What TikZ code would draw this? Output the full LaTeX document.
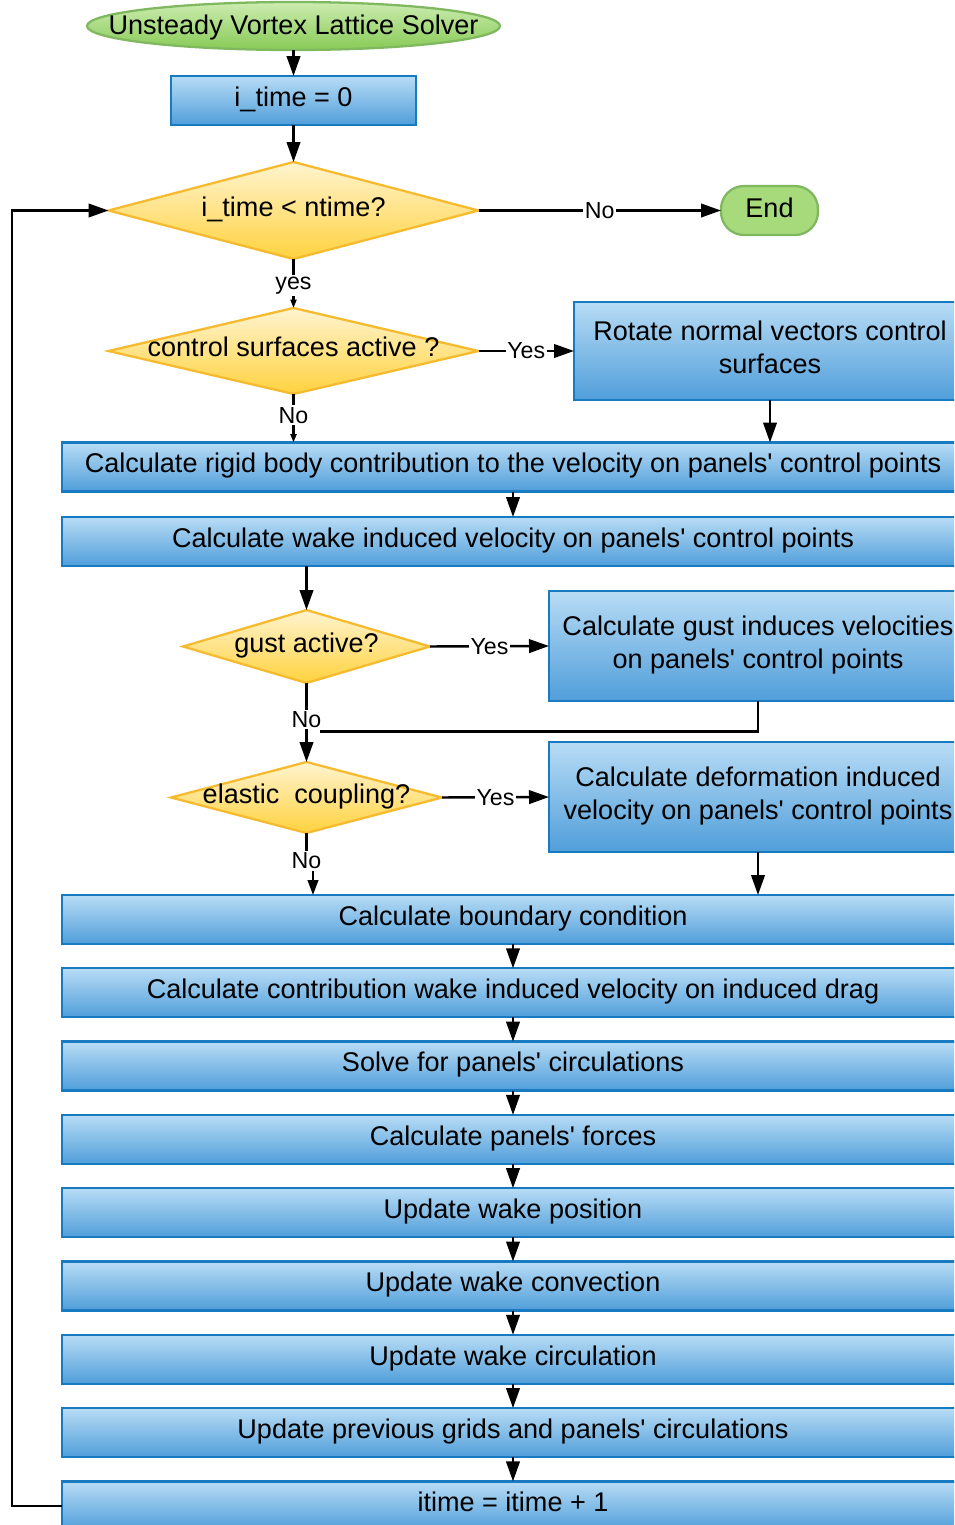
\documentclass[tikz,border=0pt]{standalone}
\usepackage{fontspec}
\setmainfont{Liberation Sans}
\usetikzlibrary{arrows.meta,shapes.geometric,calc}
\definecolor{boxtop}{RGB}{184,220,245}
\definecolor{boxbot}{RGB}{80,158,218}
\definecolor{boxline}{RGB}{24,122,192}
\definecolor{dectop}{RGB}{255,244,208}
\definecolor{decbot}{RGB}{255,210,62}
\definecolor{decline}{RGB}{246,186,46}
\definecolor{termtop}{RGB}{204,236,176}
\definecolor{termbot}{RGB}{136,202,86}
\definecolor{termline}{RGB}{128,184,96}
\definecolor{endfill}{RGB}{166,218,122}
\newcommand{\pu}{0.02cm}
\newcommand{\apos}{\textquotesingle}

\begin{document}
\begin{tikzpicture}[x=0.02cm,y=-0.02cm,
  font=\fontsize{15.4}{18.7}\selectfont,
  proc/.style={rectangle, draw=boxline, line width=1.3pt, top color=boxtop,
    bottom color=boxbot, inner sep=0pt, outer sep=0pt, align=center, text depth=4.6pt},
  wide/.style={proc, minimum width=902*\pu, minimum height=49*\pu},
  decision/.style={diamond, draw=decline, line width=1.3pt, top color=dectop,
    bottom color=decbot, inner sep=0pt, outer sep=0pt},
  dtext/.style={text depth=4.6pt},
  terminal/.style={ellipse, draw=termline, line width=1.3pt, top color=termtop,
    bottom color=termbot, inner sep=0pt, outer sep=0pt},
  endnode/.style={rectangle, rounded corners=0.46cm, draw=termline, line width=1.3pt,
    fill=endfill, inner sep=0pt, outer sep=0pt, text depth=3.4pt},
  conn/.style={line width=1.4pt},
  arr/.style={conn, -{Triangle[length=0.4cm,width=0.27cm]}},
  arrm/.style={conn, -{Triangle[length=0.3cm,width=0.21cm]}},
  arrs/.style={conn, -{Triangle[length=0.17cm,width=0.12cm]}},
  lbl/.style={font=\fontsize{13.2}{15}\selectfont, fill=white, inner sep=1pt}
]
\useasboundingbox (0,0) rectangle (954,1525);
\clip (0,0) rectangle (954,1525);

% start and first test
\node[terminal, minimum width=413*\pu, minimum height=48*\pu,
  label={[text depth=1pt]center:Unsteady Vortex Lattice Solver}] (start) at (293.5,26) {};
\node[proc, minimum width=245*\pu, minimum height=49*\pu] (init) at (293.5,100.5) {i\_time = 0};
\node[decision, minimum width=370*\pu, minimum height=97*\pu,
  label={[dtext]center:i\_time < ntime?}] (d1) at (293.5,210.5) {};
\node[endnode, minimum width=97*\pu, minimum height=49*\pu] (end) at (769.5,210.5) {End};

% control surfaces
\node[decision, minimum width=370*\pu, minimum height=86*\pu,
  label={[dtext]center:control surfaces active ?}] (d2) at (293.5,351) {};
\node[proc, minimum width=392*\pu, minimum height=98*\pu] (rot) at (770,351)
  {Rotate normal vectors control\\surfaces};

\node[wide] (rigid) at (513,467) {Calculate rigid body contribution to the velocity on panels\apos{} control points};
\node[wide] (wake) at (513,541.5) {Calculate wake induced velocity on panels\apos{} control points};

% gust
\node[decision, minimum width=247*\pu, minimum height=73*\pu,
  label={[dtext]center:gust active?}] (d3) at (306.5,646.5) {};
\node[proc, minimum width=418*\pu, minimum height=110*\pu] (gust) at (758,646)
  {Calculate gust induces velocities\\on panels\apos{} control points};

% elastic coupling
\node[decision, minimum width=271*\pu, minimum height=71*\pu,
  label={[dtext]center:elastic\ \ coupling?}] (d4) at (306.5,797.5) {};
\node[proc, minimum width=418*\pu, minimum height=110*\pu] (def) at (758,797)
  {Calculate deformation induced\\velocity on panels\apos{} control points};

% main sequence
\node[wide] (bc) at (513,919.5) {Calculate boundary condition};
\node[wide] (contr) at (513,992.8) {Calculate contribution wake induced velocity on induced drag};
\node[wide] (solve) at (513,1066.1) {Solve for panels\apos{} circulations};
\node[wide] (forces) at (513,1139.4) {Calculate panels\apos{} forces};
\node[wide] (wpos) at (513,1212.7) {Update wake position};
\node[wide] (wconv) at (513,1286) {Update wake convection};
\node[wide] (wcirc) at (513,1359.3) {Update wake circulation};
\node[wide] (prev) at (513,1432.6) {Update previous grids and panels\apos{} circulations};
\node[wide] (itime) at (513,1505.9) {itime = itime + 1};

\coordinate (gj) at (320,731.5);
\coordinate (x313) at (313,0);
\coordinate (loopx) at (12,0);

% connectors
\draw[arr] (start.south) -- (init.north);
\draw[arr] (init.south) -- (d1.north);
\draw[arr] (d1.east) -- node[lbl]{No} (end.west);
\draw[arrs] (d1.south) -- node[lbl, pos=0.54]{yes} (d2.north);
\draw[arr] (d2.east) -- node[lbl]{Yes} (rot.west);
\draw[arrs] (d2.south) -- node[lbl, pos=0.44]{No} (d2.south |- rigid.north);
\draw[arr] (rot.south) -- (rot.south |- rigid.north);
\draw[arr] (rigid.south) -- (wake.north);
\draw[arr] (d3.north |- wake.south) -- (d3.north);
\draw[arr] (d3.east) -- node[lbl]{Yes} (gust.west);
\draw[conn] (gust.south) |- (gj);
\draw[arr] (d3.south) -- node[lbl, pos=0.46]{No} (d4.north);
\draw[arr] (d4.east) -- node[lbl]{Yes} (def.west);
\draw[arr] (def.south) -- (def.south |- bc.north);
\draw[arrm] (d4.south) -- ++(0,28) node[lbl]{No} -| (x313 |- bc.north);
\draw[arr] (bc.south) -- (contr.north);
\draw[arr] (contr.south) -- (solve.north);
\draw[arr] (solve.south) -- (forces.north);
\draw[arr] (forces.south) -- (wpos.north);
\draw[arr] (wpos.south) -- (wconv.north);
\draw[arr] (wconv.south) -- (wcirc.north);
\draw[arr] (wcirc.south) -- (prev.north);
\draw[arr] (prev.south) -- (itime.north);
\draw[arr] (itime.west) -- (loopx |- itime.west) -- (loopx |- d1.west) -- (d1.west);
\end{tikzpicture}
\end{document}
